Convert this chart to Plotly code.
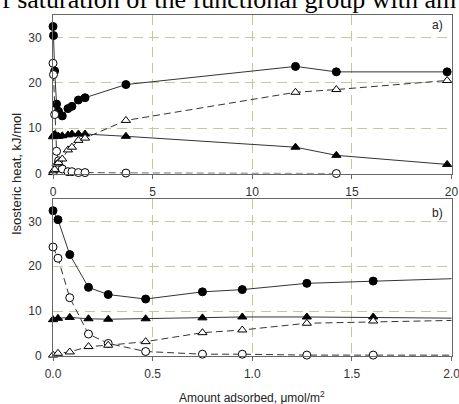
import plotly.graph_objects as go

# ---- data ----
x_fc = [0.0, 0.025, 0.084, 0.178, 0.277, 0.465, 0.75, 0.95, 1.274, 1.607, 3.66, 12.17, 14.22, 19.78]
y_fc = [32.4, 30.4, 22.6, 15.3, 13.7, 12.7, 14.3, 14.8, 16.2, 16.7, 19.6, 23.6, 22.4, 22.4]

x_ft = [0.0, 0.025, 0.084, 0.178, 0.277, 0.465, 0.75, 0.95, 1.274, 1.607, 3.66, 12.17, 14.22, 19.78]
y_ft = [8.1, 8.4, 8.6, 8.3, 8.2, 8.3, 8.5, 8.7, 8.7, 8.7, 8.2, 5.8, 4.0, 2.0]

x_ot = [0.0, 0.025, 0.084, 0.178, 0.277, 0.465, 0.75, 0.95, 1.274, 1.607, 3.66, 12.17, 14.22, 19.78]
y_ot = [0.2, 0.6, 0.9, 2.1, 2.4, 3.2, 5.2, 5.8, 7.3, 7.8, 11.7, 17.9, 18.5, 20.5]

x_oc = [0.0, 0.025, 0.084, 0.178, 0.277, 0.465, 0.75, 0.95, 1.274, 1.607, 3.66, 14.22]
y_oc = [24.3, 21.8, 13.0, 4.9, 2.8, 1.0, 0.4, 0.4, 0.2, 0.2, 0.1, 0.0]

top_xticks = [0, 5, 10, 15, 20]
bot_xticks = [0.0, 0.5, 1.0, 1.5, 2.0]
bot_xlabels = ["0.0", "0.5", "1.0", "1.5", "2.0"]
yticks = [0, 10, 20, 30]

W, H = 459, 404
LINE = "#333333"
GRID = "#c6c6a0"
FONT = "Liberation Sans, Arial, sans-serif"

series = [
    (x_fc, y_fc, "circle", "black", "solid"),
    (x_oc, y_oc, "circle", "white", "7px,4px"),
    (x_ft, y_ft, "triangle-up", "black", "solid"),
    (x_ot, y_ot, "triangle-up", "white", "7px,4px"),
]

fig = go.Figure()
for xa, ya in [("x", "y"), ("x2", "y2")]:
    for xs, ys, sym, fill, dash in series:
        fig.add_trace(go.Scatter(
            x=xs, y=ys, mode="lines+markers", xaxis=xa, yaxis=ya,
            line=dict(color=LINE, width=1, dash=dash),
            marker=dict(symbol=sym, size=8, color=fill,
                        line=dict(color="black", width=1)),
            cliponaxis=False, showlegend=False, hoverinfo="skip"))

def px_x(p):
    return p / W

def px_y(p):
    return 1 - p / H

common_x = dict(showgrid=True, gridcolor=GRID, griddash="10px,6px", gridwidth=1,
                showline=True, linecolor="#666666", linewidth=1, mirror=True,
                ticks="outside", ticklen=4, tickcolor="#666666", zeroline=False,
                automargin=False, ticklabeloverflow="allow", ticklabelstandoff=3,
                tickfont=dict(family=FONT, size=12, color="#333333"))
common_y = dict(showgrid=True, gridcolor=GRID, griddash="10px,6px", gridwidth=1,
                showline=True, linecolor="#666666", linewidth=1, mirror=True,
                ticks="", zeroline=False, range=[0, 35], tickvals=yticks,
                ticklabelstandoff=8, automargin=False, ticklabeloverflow="allow",
                tickfont=dict(family=FONT, size=12, color="#333333"))

fig.update_layout(
    width=W, height=H, margin=dict(l=0, r=0, t=0, b=0, pad=0, autoexpand=False),
    paper_bgcolor="white", plot_bgcolor="white",
    xaxis=dict(domain=[px_x(53), px_x(451.5)], range=[0, 20], tickvals=top_xticks,
               anchor="y", **common_x),
    yaxis=dict(domain=[px_y(173.5), px_y(14.7)], anchor="x", **common_y),
    xaxis2=dict(domain=[px_x(53), px_x(451.5)], range=[0, 2], tickvals=bot_xticks,
                ticktext=bot_xlabels, anchor="y2", **common_x),
    yaxis2=dict(domain=[px_y(356), px_y(199)], anchor="x2", **common_y),
    annotations=[
        dict(text="a)", x=px_x(437), y=px_y(25), xref="paper", yref="paper",
             xanchor="center", yanchor="middle",
             showarrow=False, font=dict(family=FONT, size=12, color="#222")),
        dict(text="b)", x=px_x(437), y=px_y(213), xref="paper", yref="paper",
             xanchor="center", yanchor="middle",
             showarrow=False, font=dict(family=FONT, size=12, color="#222")),
        dict(text="Isosteric heat, kJ/mol", x=px_x(17), y=px_y(174), xref="paper",
             yref="paper", textangle=-90, showarrow=False,
             xanchor="center", yanchor="middle",
             font=dict(family=FONT, size=13, color="#222")),
        dict(text="Amount adsorbed, \u03bcmol/m<sup>2</sup>", x=px_x(252), y=px_y(397),
             xref="paper", yref="paper", showarrow=False,
             xanchor="center", yanchor="middle",
             font=dict(family=FONT, size=12, color="#222")),
        dict(text="f saturation of the functional group with am", x=px_x(458),
             y=px_y(16), xref="paper", yref="paper", xanchor="right", yanchor="bottom",
             showarrow=False, font=dict(family="Liberation Serif, Times New Roman, serif",
                                        size=26, color="black")),
    ],
)

fig.write_html("out.html")
